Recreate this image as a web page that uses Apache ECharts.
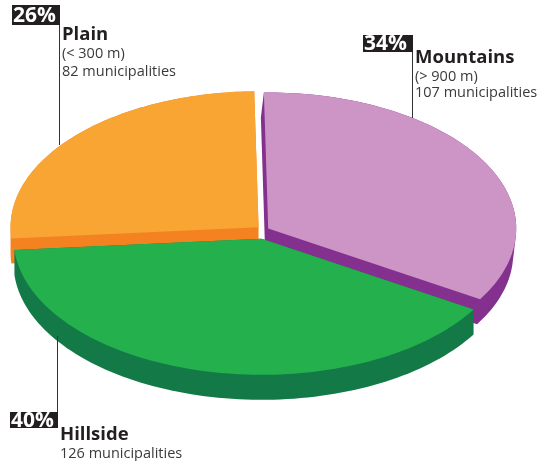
<!DOCTYPE html>
<html>
<head>
<meta charset="utf-8">
<script src="https://cdn.jsdelivr.net/npm/echarts@6/dist/echarts.min.js"></script>
<style>
  html, body { margin: 0; padding: 0; background: #fff; }
  #main { width: 541px; height: 461px; }
</style>
</head>
<body>
<div id="main"></div>
<script>
// slices, clockwise from the top of the pie
const names = ['Mountains', 'Hillside', 'Plain'];
const heights = ['(> 900 m)', '', '(< 300 m)'];
const municipalities = [107, 126, 82];
const percents = [34, 40, 26];

const topColors = ['#CC95C5', '#24B14D', '#F9A533'];
const sideColors = ['#83308F', '#137A47', '#F48220'];
const sideSkew = [-3, 0, 0];
const drawOrder = [1, 2, 0]; // plain at the back, hillside in front

// ellipse of the pie
const CX = 263, CY = 232, RX = 248, RY = 136;
const DEPTH = 25;
const START = 91;
const EXPLODE_X = 6, EXPLODE_Y = 7;

const total = municipalities.reduce((a, b) => a + b, 0);
let acc = 0;
const pieData = municipalities.map(function (v) {
  const item = [v, acc];
  acc += v;
  return item;
});

function hull(pts) {
  pts = pts.slice().sort((a, b) => a[0] - b[0] || a[1] - b[1]);
  const cross = (o, a, b) => (a[0] - o[0]) * (b[1] - o[1]) - (a[1] - o[1]) * (b[0] - o[0]);
  const lower = [], upper = [];
  for (const p of pts) {
    while (lower.length >= 2 && cross(lower[lower.length - 2], lower[lower.length - 1], p) <= 0) lower.pop();
    lower.push(p);
  }
  for (let i = pts.length - 1; i >= 0; i--) {
    const p = pts[i];
    while (upper.length >= 2 && cross(upper[upper.length - 2], upper[upper.length - 1], p) <= 0) upper.pop();
    upper.push(p);
  }
  upper.pop();
  lower.pop();
  return lower.concat(upper);
}

function renderItem(params, api) {
  const i = params.dataIndex;
  const value = api.value(0), before = api.value(1);
  const a1 = (START - before / total * 360) * Math.PI / 180;
  const a2 = (START - (before + value) / total * 360) * Math.PI / 180;
  const mid = (a1 + a2) / 2;
  const cx = CX + EXPLODE_X * Math.cos(mid);
  const cy = CY - EXPLODE_Y * Math.sin(mid);
  const face = [[cx, cy]];
  const steps = 90;
  for (let s = 0; s <= steps; s++) {
    const t = a1 + (a2 - a1) * s / steps;
    face.push([cx + RX * Math.cos(t), cy - RY * Math.sin(t)]);
  }
  const low = face.map(p => [p[0] + sideSkew[i], p[1] + DEPTH]);
  const side = hull(face.concat(low));
  const z = drawOrder[i] * 2;
  return {
    type: 'group',
    children: [
      { type: 'polygon', z2: z, shape: { points: side }, style: { fill: sideColors[i] } },
      { type: 'polygon', z2: z + 1, shape: { points: face }, style: { fill: topColors[i] } }
    ]
  };
}

// label layout: dark box, leader line end, text baselines
const labelLayout = [
  { x: 363, y: 35, w: 49, h: 17, lineTo: 118, base: [64, 81, 97] },
  { x: 10, y: 412, w: 47, h: 16, lineTo: 336, base: [441, 458] },
  { x: 12, y: 5, w: 47, h: 20, lineTo: 145, base: [41, 58, 76] }
];

const graphics = [];
names.forEach(function (name, i) {
  const L = labelLayout[i];
  const lx = L.x + L.w;
  graphics.push({
    type: 'line', z: 10,
    shape: { x1: lx + 0.5, y1: L.lineTo > L.y ? L.y : L.y + L.h, x2: lx + 0.5, y2: L.lineTo },
    style: { stroke: '#333', lineWidth: 1 }
  });
  graphics.push({
    type: 'rect', z: 10,
    shape: { x: L.x, y: L.y, width: L.w + 1, height: L.h },
    style: { fill: '#231f20' }
  });
  graphics.push({
    type: 'text', z: 11, x: L.x + 1, y: L.y + L.h / 2 + 1,
    style: {
      text: percents[i] + '%', fill: '#fff', font: 'bold 21px "Open Sans"',
      verticalAlign: 'middle'
    }
  });
  const lines = [];
  if (heights[i]) lines.push(heights[i]);
  lines.push(municipalities[i] + ' municipalities');
  graphics.push({
    type: 'text', z: 11, x: lx + 3, y: L.base[0] - 15.5,
    style: { text: name, fill: '#231f20', font: 'bold 18.5px "Open Sans"', verticalAlign: 'top' }
  });
  lines.forEach(function (t, k) {
    graphics.push({
      type: 'text', z: 11, x: lx + 3, y: L.base[k + 1] - 12,
      style: { text: t, fill: '#3a3a3a', font: '14.5px "Open Sans"', verticalAlign: 'top' }
    });
  });
});

const chart = echarts.init(document.getElementById('main'));
chart.setOption({
  animation: false,
  graphic: graphics,
  series: [{
    type: 'custom',
    coordinateSystem: 'none',
    renderItem: renderItem,
    data: pieData,
    silent: true
  }]
});
</script>
</body>
</html>
